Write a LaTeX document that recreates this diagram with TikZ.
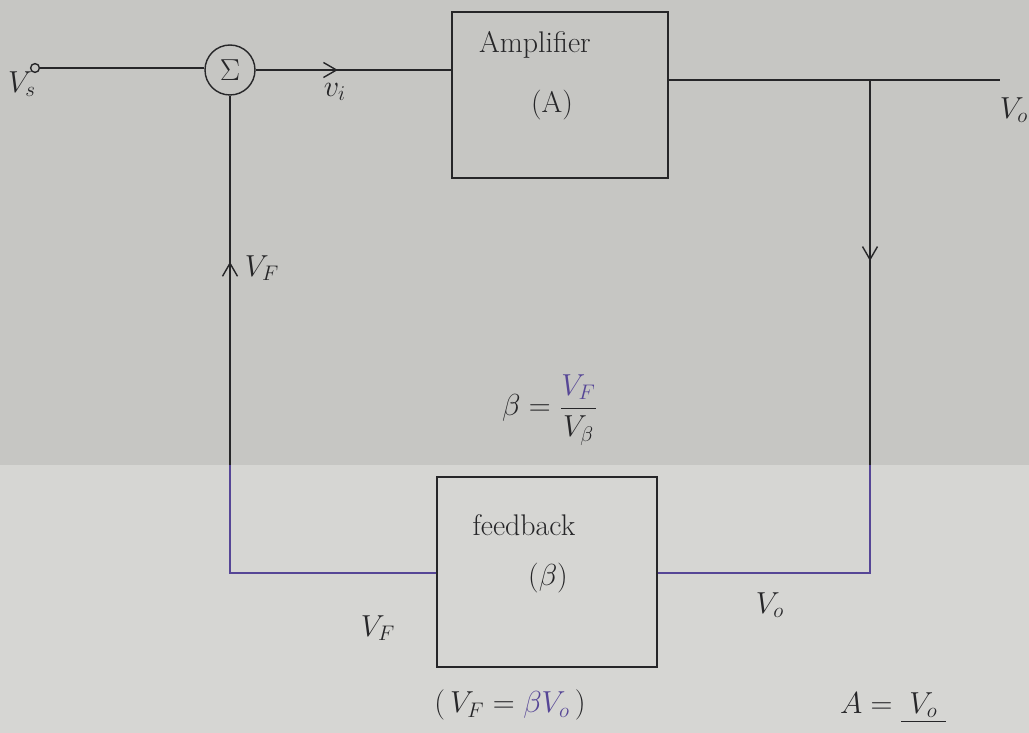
\documentclass[tikz,border=0pt]{standalone}
\usepackage{amsmath}
\usetikzlibrary{arrows.meta, positioning, decorations.markings}
\definecolor{paperTop}{RGB}{198,198,195}
\definecolor{paperLow}{RGB}{214,214,211}
\definecolor{inkDark}{RGB}{38,38,40}
\definecolor{inkPurple}{RGB}{86,70,150}

\begin{document}
\begin{tikzpicture}[x=0.02cm, y=-0.02cm,
    blk/.style={draw=inkDark, thick, inner sep=0pt},
    wire/.style={inkDark, thick},
    fbwire/.style={inkPurple, thick},
    lbl/.style={font=\fontsize{17}{20}\selectfont, text=inkDark},
    midarr/.style={postaction={decorate}, decoration={markings,
                   mark=at position #1 with {\arrow{Straight Barb[length=2.6mm, width=3mm]}}}}
]
  % paper
  \fill[paperTop] (0,0) rectangle (1029,465);
  \fill[paperLow] (0,465) rectangle (1029,733);
  \useasboundingbox (0,0) rectangle (1029,733);

  % blocks
  \node[blk, minimum width=4.32cm, minimum height=3.32cm] (amp) at (560,95) {};
  \node[blk, minimum width=4.4cm, minimum height=3.8cm] (fb) at (547,572) {};
  \node[circle, draw=inkDark, thick, minimum size=1cm, inner sep=0pt, lbl] (sum) at (230,70) {$\Sigma$};
  \node[circle, draw=inkDark, thick, minimum size=5pt, inner sep=0pt, fill=paperTop] (vs) at (35,68) {};

  % block texts
  \node[lbl] (ampname) at (535,45) {Amplifier};
  \node[lbl] (ampsym) at (552,105) {(A)};
  \node[lbl] (fbname) at (524,525) {feedback};
  \node[lbl] (fbsym) at (548,578) {($\beta$)};

  % corners of the loop
  \coordinate (tap) at (870,80);
  \coordinate (vo) at (1000,80);
  \coordinate (rmid) at (870,465);
  \coordinate (rcorner) at (870,573);
  \coordinate (lcorner) at (230,573);
  \coordinate (lmid) at (230,465);

  % forward path
  \draw[wire] (vs) -- (vs -| sum.west);
  \draw[wire, midarr=0.42] (sum.east) -- (sum.east -| amp.west);
  \draw[wire] (amp.east |- tap) -- (tap) -- (vo);
  % feedback path
  \draw[wire, midarr=0.47] (tap) -- (rmid);
  \draw[fbwire] (rmid) -- (rcorner) -- (fb.east |- rcorner);
  \draw[fbwire] (fb.west |- lcorner) -- (lcorner) -- (lmid);
  \draw[wire, midarr=0.55] (lmid) -- (sum.south);

  % labels
  \node[lbl] (lvs) at (22,84) {$V_s$};
  \node[lbl] (lvi) at (335,92) {$v_i$};
  \node[lbl] (lvo) at (1014,110) {$V_o$};
  \node[lbl] (lvf) at (262,268) {$V_F$};
  \node[lbl] (lvfb) at (378,628) {$V_F$};
  \node[lbl] (lvob) at (770,605) {$V_o$};
  \node[lbl] (beta) at (550,410) {$\beta=\dfrac{\textcolor{inkPurple}{V_F}}{V_\beta}$};
  \node[lbl] (vfeq) at (510,705) {$(\,V_F=\textcolor{inkPurple}{\beta V_o}\,)$};
  \node[lbl] (gain) at (893,708) {$A=\underline{\;V_o\;}$};
\end{tikzpicture}
\end{document}
